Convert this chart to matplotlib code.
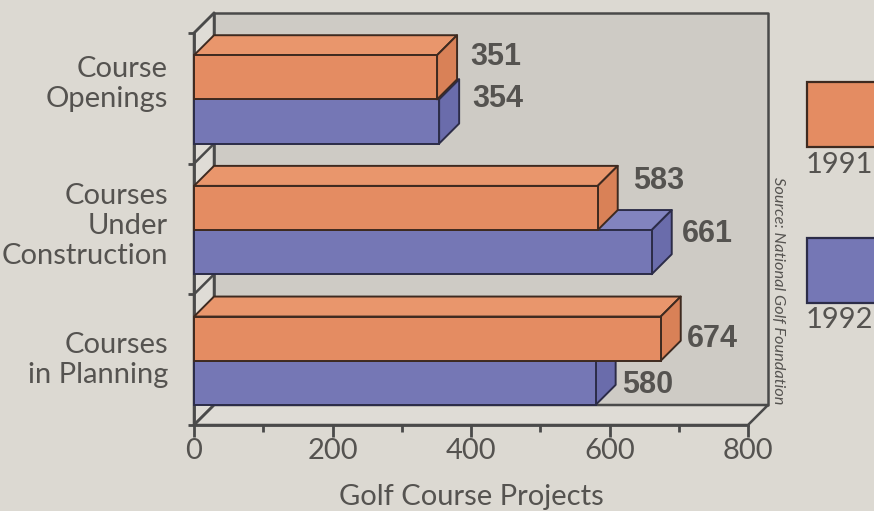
import matplotlib
matplotlib.use("Agg")
import matplotlib.pyplot as plt
from matplotlib.patches import Polygon, Rectangle

# ---- data ----
categories = ["Course\nOpenings", "Courses\nUnder\nConstruction", "Courses\nin Planning"]
years = ["1991", "1992"]
values_1991 = [351, 583, 674]
values_1992 = [354, 661, 580]
xticks_major = [0, 200, 400, 600, 800]
xticks_minor = [100, 300, 500, 700]
xlabel = "Golf Course Projects"
source = "Source: National Golf Foundation"

# ---- style ----
W, H, DPI = 874, 511, 100
BG = "#dcd9d2"
WALL = "#cecbc5"
SIDE = "#dfdcd6"
LINE = "#4a4a4a"
TXT = "#555350"
ORANGE = ("#e48c62", "#e9966c", "#d98157")   # front, top, side
BLUE = ("#7577b5", "#8284bf", "#6a6cab")
ORANGE_EDGE = "#3e2a20"
BLUE_EDGE = "#2c2c48"
WEIGHT = "normal"
# label offsets (pixels) relative to bar front-top-right corner
lab_off_1991 = [(33, -2), (35, 5), (26, -22)]
lab_off_1992 = [(33, 0), (30, -4), (26, -24)]
cat_label_dy = [14, 3, 0]

fig = plt.figure(figsize=(W / DPI, H / DPI), dpi=DPI, facecolor=BG)
ax = fig.add_axes([194 / W, (H - 425) / H, 554 / W, 392 / H])
ax.set_facecolor("none")
ncat = len(categories)
ax.set_xlim(0, 800)
ax.set_ylim(ncat, 0)

# 3-D depth offset: 20 px right, 20 px up
DX = 800 * 20 / 554
DY = ncat * 20 / 392

def poly(pts, fc, ec, lw=1.4, z=1):
    p = Polygon(pts, closed=True, facecolor=fc, edgecolor=ec, linewidth=lw,
                zorder=z, clip_on=False, joinstyle="round")
    ax.add_patch(p)

# back wall, left wall, floor
poly([(DX, -DY), (800 + DX, -DY), (800 + DX, ncat - DY), (DX, ncat - DY)], WALL, LINE, 1.8, 0.5)
poly([(0, 0), (DX, -DY), (DX, ncat - DY), (0, ncat)], SIDE, LINE, 1.8, 0.6)
poly([(0, ncat), (800, ncat), (800 + DX, ncat - DY), (DX, ncat - DY)], SIDE, LINE, 1.8, 0.6)
for k in range(ncat + 1):
    ax.plot([0, DX], [k, k - DY], color=LINE, lw=1.8, clip_on=False, zorder=0.7)

GAP, BH = 0.17, 0.338

def box(v, y0, cols, ec, z):
    y1 = y0 + BH
    front, top, side = cols
    poly([(0, y0), (DX, y0 - DY), (v + DX, y0 - DY), (v, y0)], top, ec, 1.4, z)
    poly([(v, y0), (v + DX, y0 - DY), (v + DX, y1 - DY), (v, y1)], side, ec, 1.4, z)
    rect = Rectangle((0, y0), v, BH, facecolor=front, edgecolor=ec, linewidth=1.4,
                     zorder=z, clip_on=False)
    ax.add_patch(rect)

lab_font = dict(fontsize=22, fontweight="bold", color=TXT, family="Liberation Sans")
for i in range(ncat):
    y_or = i + GAP
    y_bl = i + GAP + BH
    box(values_1992[i], y_bl, BLUE, BLUE_EDGE, 2 + i)
    box(values_1991[i], y_or, ORANGE, ORANGE_EDGE, 2.5 + i)
    ax.annotate(str(values_1991[i]), xy=(values_1991[i], y_or),
                xytext=lab_off_1991[i], textcoords="offset pixels",
                ha="left", va="center", zorder=10, annotation_clip=False, **lab_font)
    ax.annotate(str(values_1992[i]), xy=(values_1992[i], y_bl),
                xytext=lab_off_1992[i], textcoords="offset pixels",
                ha="left", va="center", zorder=10, annotation_clip=False, **lab_font)
    ax.annotate(categories[i], xy=(0, i + 0.5), xytext=(-26, cat_label_dy[i]),
                textcoords="offset pixels", ha="right", va="center",
                multialignment="right", fontsize=21, color=TXT, family="Lato",
                fontweight=WEIGHT, linespacing=1.2, annotation_clip=False)

# axes / ticks
for s in ["top", "right"]:
    ax.spines[s].set_visible(False)
for s in ["left", "bottom"]:
    ax.spines[s].set_color(LINE)
    ax.spines[s].set_linewidth(2)
    ax.spines[s].set_zorder(1)
ax.set_xticks(xticks_major)
ax.set_xticks(xticks_minor, minor=True)
ax.set_yticks(range(ncat + 1))
ax.set_yticklabels([])
ax.tick_params(axis="x", which="major", length=8.6, width=2, color=LINE,
               labelsize=21, labelcolor=TXT, pad=1)
ax.tick_params(axis="x", which="minor", length=5, width=2, color=LINE)
ax.tick_params(axis="y", length=4.3, width=2, color=LINE)
for t in ax.get_xticklabels():
    t.set_family("Lato")
    t.set_fontweight(WEIGHT)
ax.set_xlabel(xlabel, fontsize=21, color=TXT, family="Lato", fontweight=WEIGHT,
              labelpad=14)

# legend
for (y0, y1, col, ec, yr, ty) in [(82, 147, ORANGE[0], ORANGE_EDGE, years[0], 165),
                                   (238, 303, BLUE[0], BLUE_EDGE, years[1], 320)]:
    fig.patches.append(Rectangle((807 / W, 1 - y1 / H), 80 / W, (y1 - y0) / H,
                                 transform=fig.transFigure, facecolor=col,
                                 edgecolor=ec, linewidth=1.6, clip_on=False))
    fig.text(806 / W, 1 - ty / H, yr, ha="left", va="center", fontsize=21,
             color=TXT, family="Lato", fontweight=WEIGHT)

fig.text(778 / W, 1 - 291 / H, source, rotation=270, ha="center", va="center",
         fontsize=11.8, style="italic", color=TXT, family="Lato")

fig.savefig("out.png", dpi=DPI, facecolor=BG)
